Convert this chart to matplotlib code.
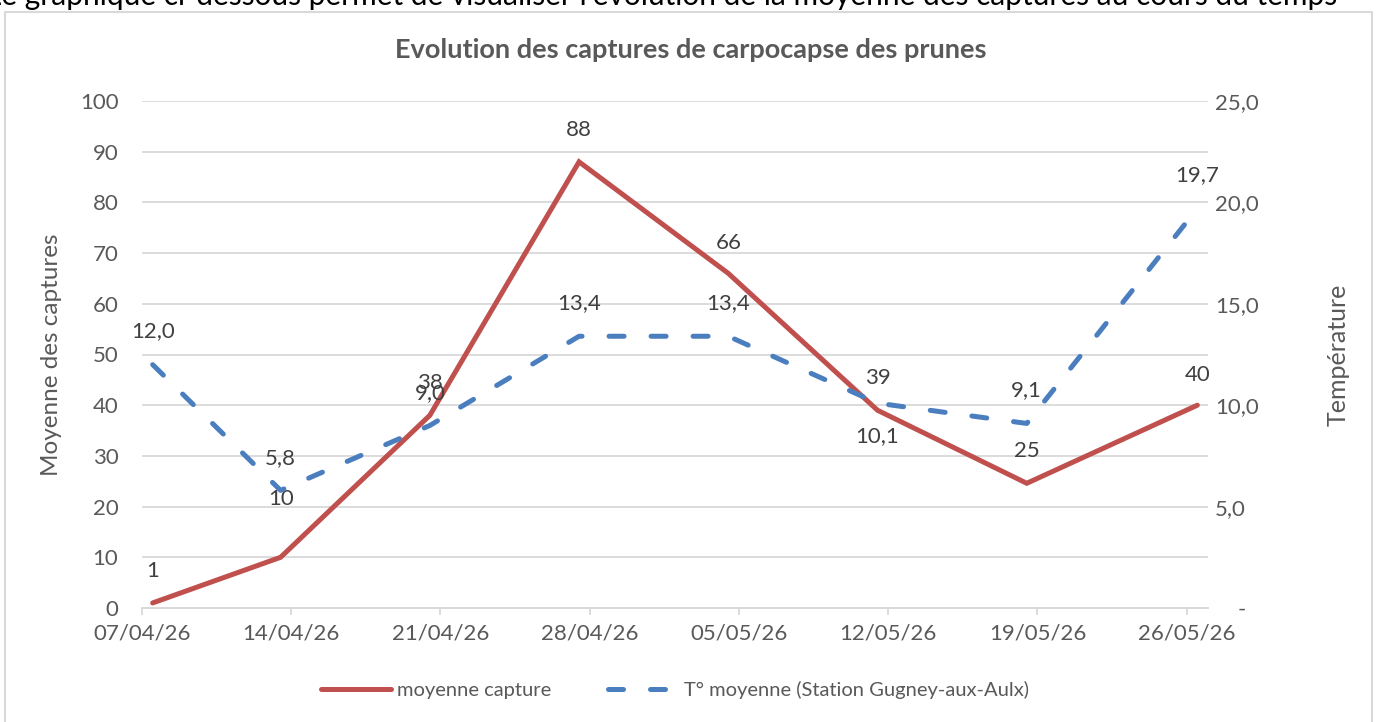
"""Evolution des captures de carpocapse des prunes (moyenne capture + température)."""

import datetime as dt

import matplotlib

matplotlib.use("Agg")
import matplotlib.dates as mdates
import matplotlib.pyplot as plt
from matplotlib.patches import Rectangle

# data
dates = ["2026-04-07", "2026-04-13", "2026-04-20", "2026-04-27",
         "2026-05-04", "2026-05-11", "2026-05-18", "2026-05-26"]
captures = [1, 10, 38, 88, 66, 39, 24.6, 40]
temperature = [12.0, 5.8, 9.0, 13.4, 13.4, 10.1, 9.1, 19.7]
week_ticks = ["2026-04-07", "2026-04-14", "2026-04-21", "2026-04-28",
              "2026-05-05", "2026-05-12", "2026-05-19", "2026-05-26"]
left_ticks = [0, 10, 20, 30, 40, 50, 60, 70, 80, 90, 100]
right_ticks = [0, 5, 10, 15, 20, 25]

# label placement (points, vertical offset from the marker)
cap_dy = [23, 42, 23, 23, 22, 23, 23, 22]
temp_dy = [24, 23, 23, 24, 24, -24, 24, 24]

RED = "#C0504D"
BLUE = "#4A7EBF"
GREY = "#595959"
GRID = "#D9D9D9"
FONT = "Lato"

plt.rcParams["font.family"] = [FONT, "DejaVu Sans"]


def to_num(s):
    # Excel date axis "between tick marks": point sits in the middle of its day
    return mdates.date2num(dt.datetime.fromisoformat(s)) + 0.5


x = [to_num(d) for d in dates]
xt = [to_num(d) - 0.5 for d in week_ticks]

fig = plt.figure(figsize=(13.79, 7.22), dpi=100)
ax = fig.add_axes([142 / 1379, 1 - 608 / 722, (1208 - 142) / 1379, (608 - 101) / 722])
ax2 = ax.twinx()

ax.set_xlim(xt[0], xt[0] + 50)
ax.set_ylim(0, 100)
ax2.set_ylim(0, 25)

ax.set_yticks(left_ticks)
ax.grid(axis="y", color=GRID, lw=1.3)
ax.set_axisbelow(True)
ax.set_xticks(xt)
ax.set_xticklabels([dt.date.fromisoformat(d).strftime("%d/%m/%y") for d in week_ticks])
ax.tick_params(axis="x", length=5, width=1.3, color=GRID, pad=6, labelsize=16, labelcolor=GREY)
ax.tick_params(axis="y", length=0, pad=17, labelsize=16, labelcolor=GREY)
ax2.set_yticks(right_ticks)
ax2.set_yticklabels(["    -" if v == 0 else f"{v:.1f}".replace(".", ",") for v in right_ticks])
ax2.tick_params(axis="y", length=0, pad=5, labelsize=16, labelcolor=GREY)

for a in (ax, ax2):
    for side in ("top", "left", "right"):
        a.spines[side].set_visible(False)
    a.spines["bottom"].set_color(GRID)
    a.spines["bottom"].set_linewidth(1.3)
    a.patch.set_visible(False)

(l1,) = ax.plot(x, captures, color=RED, lw=3.6, solid_joinstyle="miter",
                solid_capstyle="round", label="moyenne capture", zorder=3)
(l2,) = ax2.plot(x, temperature, color=BLUE, lw=3.6, linestyle=(0, (3.0, 5.4)),
                 dash_capstyle="round", label="T° moyenne (Station Gugney-aux-Aulx)", zorder=3)

for xi, v, dy in zip(x, captures, cap_dy):
    ax.annotate(f"{v:.0f}", (xi, v), xytext=(0, dy), textcoords="offset points",
                ha="center", va="center", fontsize=16, color="#404040")
for xi, v, dy in zip(x, temperature, temp_dy):
    ax2.annotate(f"{v:.1f}".replace(".", ","), (xi, v), xytext=(0, dy), textcoords="offset points",
                 ha="center", va="center", fontsize=16, color="#404040")

ax.set_ylabel("Moyenne des captures", fontsize=17.5, color=GREY)
ax.yaxis.set_label_coords(-(142 - 62) / 1066, 0.5)
ax2.set_ylabel("Température", fontsize=18, color=GREY)
ax2.yaxis.set_label_coords((1327 - 142) / 1066, 0.5)

fig.text(691 / 1379, 1 - 50 / 722, "Evolution des captures de carpocapse des prunes",
         ha="center", va="center", fontsize=19.5, fontweight="bold", color=GREY)

fig.legend(handles=[l1, l2], loc="center", bbox_to_anchor=(675 / 1379, 1 - 690 / 722),
           ncol=2, frameon=False, fontsize=14.5, handlelength=3.5, columnspacing=2.8,
           labelcolor=GREY, handletextpad=0.3)

# chart frame and the clipped sentence above it
fig.add_artist(Rectangle((5 / 1379, -0.05), (1372 - 5) / 1379, 1.05 - 12 / 722,
                         fill=False, ec=GRID, lw=1.5, transform=fig.transFigure))
fig.text(-14 / 1379, 1 - 5 / 722,
         "Le graphique ci-dessous permet de visualiser l'évolution de la moyenne des captures au cours du temps",
         ha="left", va="baseline", fontsize=21.5, color="black")

fig.savefig("out.png", dpi=100)
